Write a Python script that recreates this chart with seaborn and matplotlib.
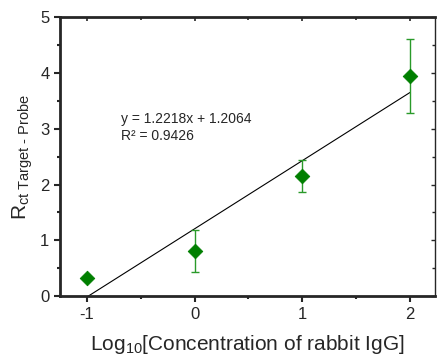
import numpy as np
import pandas as pd
import seaborn as sns
import matplotlib.pyplot as plt
from matplotlib.ticker import MultipleLocator

log_conc = [-1, 0, 1, 2]
rct = [0.33, 0.81, 2.15, 3.95]
rct_err = [0.0, 0.37, 0.29, 0.66]
slope = 1.2218
intercept = 1.2064
r2 = 0.9426

sns.set_style('ticks')
plt.rcParams['font.family'] = ['Liberation Sans', 'DejaVu Sans']
plt.rcParams['mathtext.fontset'] = 'custom'
plt.rcParams['mathtext.rm'] = 'Liberation Sans'
plt.rcParams['mathtext.it'] = 'Liberation Sans'

df = pd.DataFrame({'x': log_conc, 'y': rct})
fit_x = np.array([log_conc[0], log_conc[-1]])
fit = pd.DataFrame({'x': fit_x, 'y': slope * fit_x + intercept})

fig, ax = plt.subplots(figsize=(4.37, 3.56), dpi=100)
fig.subplots_adjust(left=0.137, right=0.995, top=0.952, bottom=0.168)

sns.lineplot(data=fit, x='x', y='y', color='black', linewidth=0.8, ax=ax)
ax.errorbar(log_conc, rct, yerr=rct_err, fmt='none', ecolor='#2a9a2a',
            elinewidth=1, capsize=3, capthick=1)
sns.scatterplot(data=df, x='x', y='y', marker='D', color='#007f00', s=55,
                edgecolor='#007f00', zorder=3, ax=ax)

ax.text(-0.68, 3.1, f'y = {slope}x + {intercept}', fontsize=10)
ax.text(-0.68, 2.8, f'R² = {r2}', fontsize=10)

ax.set_xlim(-1.25, 2.23)
ax.set_ylim(0, 5)
ax.set_xticks(log_conc)
ax.set_xticklabels(['-1', '0', '1', '2'])
ax.set_yticks(range(6))
ax.xaxis.set_minor_locator(MultipleLocator(0.5))
ax.yaxis.set_minor_locator(MultipleLocator(0.5))
ax.tick_params(axis='both', which='major', labelsize=12, width=1.5, length=4)
ax.tick_params(axis='both', which='minor', width=1.5, length=2.5)
for side in ['left', 'bottom', 'top']:
    ax.spines[side].set_linewidth(2)
ax.spines['right'].set_linewidth(1)
ax.spines['top'].set_visible(True)
ax.spines['right'].set_visible(True)

secx = ax.secondary_xaxis('top')
secx.set_xticks(log_conc)
secx.xaxis.set_minor_locator(MultipleLocator(0.5))
secx.tick_params(which='both', direction='in', labeltop=False, width=1.2)
secx.tick_params(which='major', length=3)
secx.tick_params(which='minor', length=2)
secx.spines['top'].set_visible(False)
secy = ax.secondary_yaxis('right')
secy.set_yticks(range(6))
secy.yaxis.set_minor_locator(MultipleLocator(0.5))
secy.tick_params(which='both', direction='in', labelright=False, width=1)
secy.tick_params(which='major', length=3)
secy.tick_params(which='minor', length=2)
secy.spines['right'].set_visible(False)

ax.set_xlabel(r'Log$_{10}$[Concentration of rabbit IgG]', fontsize=15, labelpad=8)
ax.set_ylabel(r'R$_{\text{ct Target - Probe}}$', fontsize=15, labelpad=4)

fig.savefig('out.png', dpi=100)
